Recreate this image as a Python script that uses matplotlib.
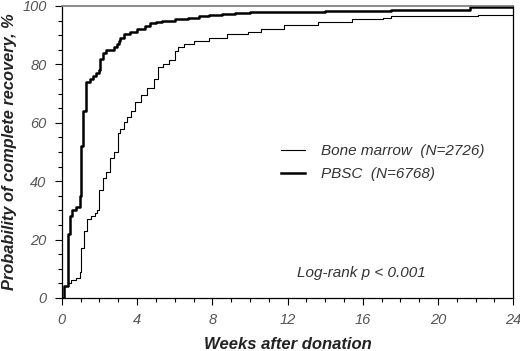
import matplotlib
matplotlib.use("Agg")
import matplotlib.pyplot as plt
from matplotlib.ticker import MultipleLocator

plt.rcParams["font.family"] = ["Liberation Sans", "DejaVu Sans"]

# Kaplan-Meier style step data (weeks after donation, % recovered)
pbsc_weeks = [0, 0.12, 0.3, 0.41, 0.55, 0.73, 0.95, 1.04, 1.13, 1.3, 1.5, 1.66, 1.84, 1.97,
              2.02, 2.2, 2.35, 2.75, 2.95, 3.05, 3.1, 3.3, 3.6, 4.0, 4.4, 4.7, 5.0, 5.3,
              6.0, 6.7, 7.3, 7.8, 8.5, 9.2, 10.0, 12.0, 14.0, 17.5, 21.7, 24]
pbsc_pct = [0, 4, 22, 28, 30, 31, 35, 52, 64, 74, 75, 76, 77, 78,
            82, 84, 85, 86, 87, 88, 89, 90.5, 91, 92, 93, 94, 94.6, 95,
            95.5, 96, 96.5, 97, 97.3, 97.6, 98, 98.1, 98.3, 98.7, 99.6, 99.6]
bm_weeks = [0, 0.1, 0.3, 0.5, 0.75, 0.95, 1.04, 1.18, 1.35, 1.57, 1.75, 1.85, 1.97, 2.2,
            2.35, 2.57, 2.75, 3.0, 3.1, 3.3, 3.45, 3.7, 3.9, 4.2, 4.55, 4.9, 5.1, 5.4,
            5.7, 6.0, 6.2, 6.5, 7.0, 7.8, 8.8, 9.9, 10.6, 11.8, 13.6, 15.4, 17.1, 17.5,
            20.3, 22.1, 24]
bm_pct = [0, 4, 5, 6, 7, 9, 17, 23, 27, 28, 29, 30, 37, 41,
          43, 48, 50, 56.5, 58, 60.4, 62, 64, 67, 69.5, 72, 75, 79, 80,
          81.5, 84.5, 86, 87, 88, 89, 90.5, 91, 92, 93.5, 94.6, 95.5, 96, 96.4,
          96.6, 97, 97]

fig = plt.figure(figsize=(5.2, 3.51), dpi=100)
ax = fig.add_axes([0.119, 0.151, 0.868, 0.832])

ax.step(bm_weeks, bm_pct, where="post", color="black", lw=0.8, label="Bone marrow  (N=2726)")
ax.step(pbsc_weeks, pbsc_pct, where="post", color="black", lw=1.8, label="PBSC  (N=6768)")

ax.set_xlim(0, 24)
ax.set_ylim(0, 100)
ax.xaxis.set_major_locator(MultipleLocator(4))
ax.xaxis.set_minor_locator(MultipleLocator(1))
ax.yaxis.set_major_locator(MultipleLocator(20))
ax.yaxis.set_minor_locator(MultipleLocator(5))
ax.tick_params(which="major", direction="out", length=5, width=0.8, colors="black",
               labelcolor="#555555", labelsize=10.5, pad=6)
ax.tick_params(which="minor", direction="out", length=3, width=0.8, colors="black")
for lab in ax.get_xticklabels() + ax.get_yticklabels():
    lab.set_fontstyle("italic")

for s in ["left", "bottom", "right"]:
    ax.spines[s].set_color("black")
    ax.spines[s].set_linewidth(0.9)
ax.spines["top"].set_color("#777777")
ax.spines["top"].set_linewidth(1.2)

ax.set_xlabel("Weeks after donation", fontsize=12, fontweight="bold", fontstyle="italic",
              color="#222222", labelpad=7)
ax.set_ylabel("Probability of complete recovery, %", fontsize=11.8, fontweight="bold",
              fontstyle="italic", color="#222222", labelpad=4)

leg = ax.legend(loc="upper left", bbox_to_anchor=(0.455, 0.574), frameon=False,
                prop={"style": "italic", "size": 11}, handlelength=1.6,
                handletextpad=1.0, labelspacing=0.6)
for t in leg.get_texts():
    t.set_color("#333333")

ax.text(0.522, 0.085, "Log-rank p < 0.001", transform=ax.transAxes, fontsize=11,
        fontstyle="italic", color="#333333", ha="left", va="center")

fig.savefig("out.png", dpi=100)
